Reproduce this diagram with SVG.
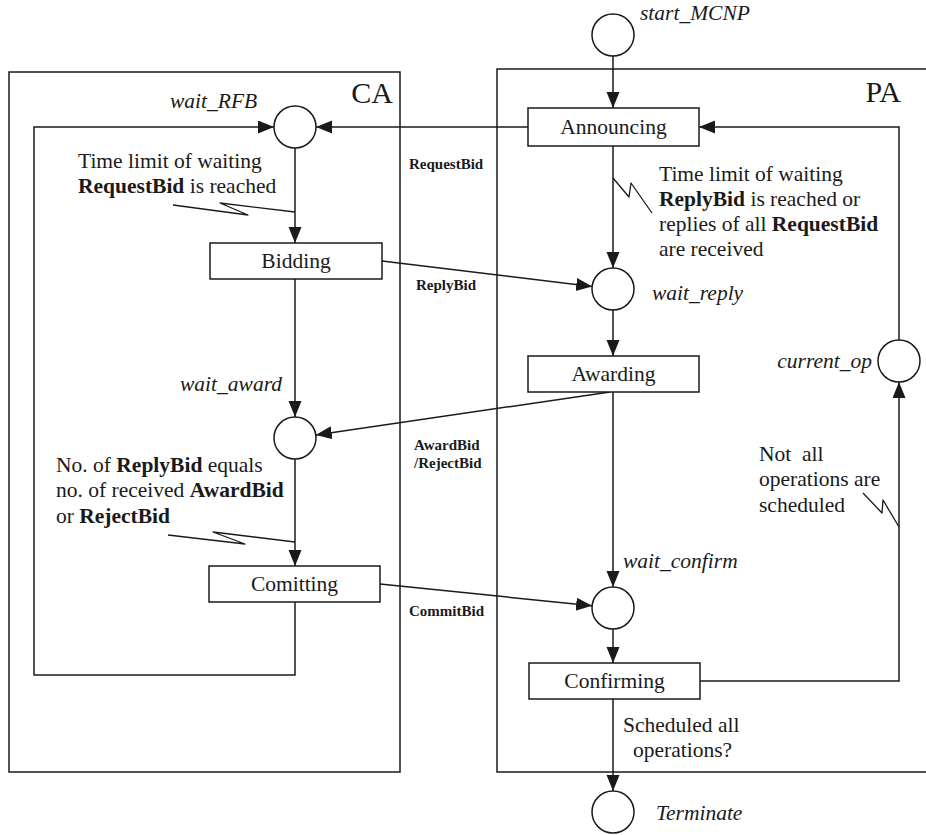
<svg xmlns="http://www.w3.org/2000/svg" width="926" height="835" viewBox="0 0 926 835">
<style>
text{font-family:"Liberation Serif","Times New Roman",serif;font-size:21.5px;fill:#1a1a1a}
.it{font-style:italic}
.b{font-weight:bold}
.lbl{font-weight:bold;font-size:15px}
.big{font-size:30px}
.mid{text-anchor:middle}
.box{fill:#fff;stroke:#1a1a1a;stroke-width:1.5}
.place{fill:#fff;stroke:#1a1a1a;stroke-width:1.5}
.frame{fill:none;stroke:#1a1a1a;stroke-width:1.5}
.c{fill:none;stroke:#1a1a1a;stroke-width:1.5}
.a{marker-end:url(#ah)}
.sq{fill:none;stroke:#1a1a1a;stroke-width:1.3;stroke-linejoin:round}
</style>
<defs>
<marker id="ah" markerUnits="userSpaceOnUse" markerWidth="17" markerHeight="14" refX="16" refY="6.5" orient="auto">
<path d="M0,0 L16,6.5 L0,13 z" fill="#1a1a1a"/>
</marker>
</defs>
<rect width="926" height="835" fill="#fff"/>

<g id="frames">
<rect class="frame" x="9" y="72" width="391" height="700"/>
<rect class="frame" x="497" y="69" width="440" height="703"/>
<text class="big" x="393" y="103" text-anchor="end">CA</text>
<text class="big" x="901" y="102" text-anchor="end">PA</text>
</g>

<g id="connectors">
<line class="c a" x1="613" y1="56" x2="613" y2="108"/>
<line class="c a" x1="528" y1="127" x2="316" y2="127"/>
<polyline class="c a" points="295,602 295,675 34,675 34,127 274,127"/>
<line class="c a" x1="295" y1="148" x2="295" y2="243"/>
<line class="c a" x1="382" y1="261" x2="592.2" y2="286.5"/>
<line class="c a" x1="613" y1="146" x2="613" y2="268"/>
<line class="c a" x1="613" y1="310" x2="613" y2="356"/>
<line class="c a" x1="610" y1="392" x2="315.8" y2="435"/>
<line class="c a" x1="295" y1="279" x2="295" y2="417"/>
<line class="c a" x1="295" y1="459" x2="295" y2="566"/>
<line class="c a" x1="613" y1="392" x2="613" y2="587"/>
<line class="c a" x1="380" y1="584" x2="592.1" y2="605.8"/>
<line class="c a" x1="613" y1="629" x2="613" y2="663"/>
<line class="c a" x1="613" y1="699" x2="613" y2="791"/>
<polyline class="c a" points="700,681 899,681 899,382"/>
<polyline class="c a" points="899,340 899,127 699,127"/>
<path class="sq" d="M173,205 L248,215 L220,203 L295,212"/>
<path class="sq" d="M168,535 L245,544 L213,532 L295,542"/>
<path class="sq" d="M613,178 L629,197 L631,183 L652,213"/>
<path class="sq" d="M863,493 L882,513 L883,500 L899,527"/>
<text class="lbl" x="409" y="169">RequestBid</text>
<text class="lbl" x="416" y="290">ReplyBid</text>
<text class="lbl" x="414" y="450">AwardBid</text>
<text class="lbl" x="414" y="468">/RejectBid</text>
<text class="lbl" x="409" y="616">CommitBid</text>
</g>

<g id="start_MCNP">
<circle class="place" cx="613" cy="35" r="21"/>
<text class="it" x="640" y="20">start_MCNP</text>
</g>
<g id="wait_RFB">
<circle class="place" cx="295" cy="127" r="21"/>
<text class="it" x="170" y="108">wait_RFB</text>
</g>
<g id="Announcing">
<rect class="box" x="528" y="108" width="171" height="38"/>
<text class="mid" x="613.5" y="134">Announcing</text>
</g>
<g id="Bidding">
<rect class="box" x="210" y="243" width="172" height="36"/>
<text class="mid" x="296" y="268">Bidding</text>
</g>
<g id="wait_reply">
<circle class="place" cx="613" cy="289" r="21"/>
<text class="it" x="652" y="300">wait_reply</text>
</g>
<g id="Awarding">
<rect class="box" x="528" y="356" width="171" height="36"/>
<text class="mid" x="613.5" y="381">Awarding</text>
</g>
<g id="current_op">
<circle class="place" cx="899" cy="361" r="21"/>
<text class="it" x="872" y="368" text-anchor="end">current_op</text>
</g>
<g id="wait_award">
<circle class="place" cx="295" cy="438" r="21"/>
<text class="it" x="180" y="391">wait_award</text>
</g>
<g id="Comitting">
<rect class="box" x="209" y="566" width="171" height="36"/>
<text class="mid" x="294.5" y="591">Comitting</text>
</g>
<g id="wait_confirm">
<circle class="place" cx="613" cy="608" r="21"/>
<text class="it" x="623" y="568">wait_confirm</text>
</g>
<g id="Confirming">
<rect class="box" x="529" y="663" width="171" height="36"/>
<text class="mid" x="614.5" y="688">Confirming</text>
</g>
<g id="Terminate">
<circle class="place" cx="613" cy="812" r="21"/>
<text class="it" x="656" y="820">Terminate</text>
</g>

<g id="notes">
<text x="78" y="168">Time limit of waiting</text>
<text x="78" y="193"><tspan class="b">RequestBid</tspan> is reached</text>
<text x="659" y="181">Time limit of waiting</text>
<text x="659" y="206"><tspan class="b">ReplyBid</tspan> is reached or</text>
<text x="659" y="231">replies of all <tspan class="b">RequestBid</tspan></text>
<text x="659" y="256">are received</text>
<text x="56" y="472">No. of <tspan class="b">ReplyBid</tspan> equals</text>
<text x="56" y="497">no. of received <tspan class="b">AwardBid</tspan></text>
<text x="56" y="523">or <tspan class="b">RejectBid</tspan></text>
<text x="759" y="461" xml:space="preserve">Not  all</text>
<text x="759" y="486">operations are</text>
<text x="759" y="512">scheduled</text>
<text x="623" y="732">Scheduled all</text>
<text x="633" y="757">operations?</text>
</g>
</svg>
